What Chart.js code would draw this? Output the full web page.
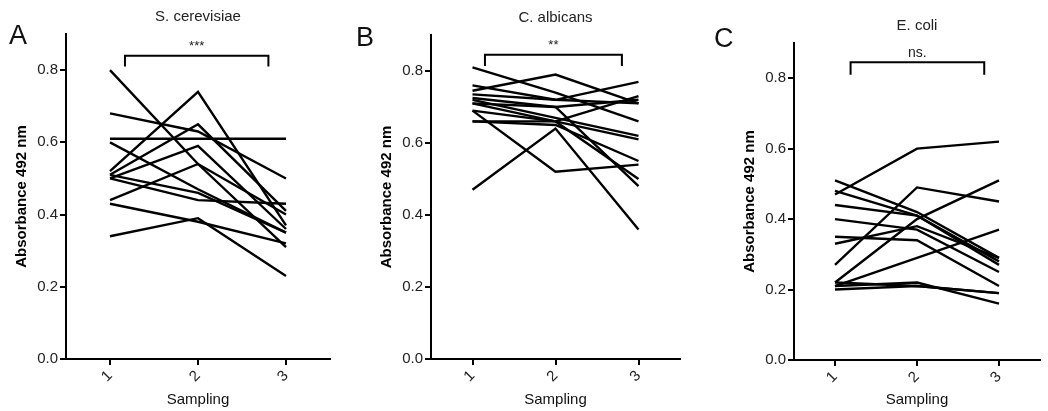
<!DOCTYPE html>
<html>
<head>
<meta charset="utf-8">
<script src="https://cdn.jsdelivr.net/npm/chart.js@4"></script>
<style>
  body { margin: 0; background: #fff; font-family: "Liberation Sans", Arial, sans-serif; }
  #wrap { position: relative; width: 1048px; height: 411px; overflow: hidden; }
  canvas { position: absolute; top: 0; }
  .lettera { position: absolute; font-size: 27px; color: #111; line-height: 1; }
</style>
</head>
<body>
<div id="wrap">
  <canvas id="graficoA" width="345" height="411" style="left:0px"></canvas>
  <canvas id="graficoB" width="330" height="411" style="left:365px"></canvas>
  <canvas id="graficoC" width="320" height="411" style="left:728px"></canvas>
  <div class="lettera" style="left:9px;top:22px">A</div>
  <div class="lettera" style="left:356px;top:24px">B</div>
  <div class="lettera" style="left:714px;top:25px">C</div>
</div>
<script>
// DATI - campionamenti e valori di assorbanza (una riga = un campione)
const sampling = [1, 2, 3]
const yTicks = [0, 0.2, 0.4, 0.6, 0.8]

const cerevisiae = [
  [0.61, 0.61, 0.61],
  [0.68, 0.63, 0.50],
  [0.80, 0.54, 0.31],
  [0.52, 0.74, 0.37],
  [0.51, 0.65, 0.41],
  [0.50, 0.59, 0.36],
  [0.44, 0.54, 0.40],
  [0.60, 0.47, 0.35],
  [0.51, 0.46, 0.35],
  [0.50, 0.44, 0.43],
  [0.43, 0.38, 0.32],
  [0.34, 0.39, 0.23],
]

const albicans = [
  [0.81, 0.74, 0.66],
  [0.745, 0.79, 0.71],
  [0.47, 0.64, 0.36],
  [0.69, 0.52, 0.54],
  [0.71, 0.70, 0.48],
  [0.76, 0.72, 0.71],
  [0.735, 0.72, 0.77],
  [0.66, 0.66, 0.73],
  [0.72, 0.67, 0.62],
  [0.71, 0.66, 0.61],
  [0.66, 0.65, 0.55],
  [0.69, 0.66, 0.50],
  [0.725, 0.70, 0.72],
]

const ecoli = [
  [0.47, 0.60, 0.62],
  [0.27, 0.49, 0.45],
  [0.22, 0.40, 0.51],
  [0.21, 0.29, 0.37],
  [0.51, 0.42, 0.29],
  [0.48, 0.41, 0.27],
  [0.44, 0.41, 0.28],
  [0.40, 0.37, 0.25],
  [0.33, 0.38, 0.29],
  [0.35, 0.34, 0.21],
  [0.21, 0.22, 0.16],
  [0.20, 0.21, 0.19],
  [0.22, 0.21, 0.19],
]

const titoli = ["S. cerevisiae", "C. albicans", "E. coli"]
const significativita = ["***", "**", "ns."]
// parentesi di confronto tra campionamento 1 e 3
const parentesiDa = [1.17, 1.15, 1.19]
const parentesiA = [2.8, 2.8, 2.82]
const parentesiAlto = [0.84, 0.845, 0.845]
const parentesiPiede = [0.81, 0.814, 0.81]

const FONT = "'Liberation Sans', Arial, sans-serif"

// PLUGIN per titolo del pannello e parentesi con asterischi
const testoPannello = {
  id: "testoPannello",
  afterDraw(chart, args, opts) {
    const { ctx, chartArea, scales } = chart
    const x1 = scales.x.getPixelForValue(opts.da)
    const x2 = scales.x.getPixelForValue(opts.a)
    const yt = scales.y.getPixelForValue(opts.alto)
    const yb = scales.y.getPixelForValue(opts.piede)
    ctx.save()
    ctx.fillStyle = "#222"
    ctx.textAlign = "center"
    ctx.textBaseline = "middle"
    ctx.font = "15px " + FONT
    ctx.fillText(opts.titolo, (chartArea.left + chartArea.right) / 2, chartArea.top - 17)

    ctx.strokeStyle = "#000"
    ctx.lineWidth = 2
    ctx.beginPath()
    ctx.moveTo(x1, yb)
    ctx.lineTo(x1, yt)
    ctx.lineTo(x2, yt)
    ctx.lineTo(x2, yb)
    ctx.stroke()

    ctx.font = (opts.etichetta === "ns." ? "14px " : "13px ") + FONT
    ctx.fillText(opts.etichetta, (x1 + x2) / 2, yt - 9)
    ctx.restore()
  },
}

function creaGrafico(id, serie, i, impostazioni) {
  const datasets = serie.map((valori) => ({
    data: valori.map((v, k) => ({ x: sampling[k], y: v })),
    borderColor: "#000",
    borderWidth: 2.4,
    pointRadius: 0,
    tension: 0,
    fill: false,
  }))

  new Chart(document.getElementById(id), {
    type: "line",
    data: { datasets },
    plugins: [testoPannello],
    options: {
      responsive: false,
      animation: false,
      layout: { padding: { top: impostazioni.top, right: impostazioni.right, left: 0, bottom: 0 } },
      plugins: {
        legend: { display: false },
        tooltip: { enabled: false },
        testoPannello: {
          titolo: titoli[i],
          etichetta: significativita[i],
          da: parentesiDa[i],
          a: parentesiA[i],
          alto: parentesiAlto[i],
          piede: parentesiPiede[i],
        },
      },
      scales: {
        x: {
          type: "linear",
          min: 0.5,
          max: 3.5,
          afterBuildTicks: (s) => { s.ticks = sampling.map((v) => ({ value: v })) },
          afterFit: (s) => { s.height = impostazioni.xHeight },
          border: { display: true, color: "#000", width: 2 },
          grid: { drawOnChartArea: false, drawTicks: true, tickLength: 6, color: "#000", lineWidth: 2 },
          ticks: {
            minRotation: 45,
            maxRotation: 45,
            padding: 2,
            color: "#222",
            font: { family: FONT, size: 15 },
            callback: (v) => String(v),
          },
          title: {
            display: true,
            text: "Sampling",
            color: "#111",
            font: { family: FONT, size: 15 },
            padding: { top: 4, bottom: 2 },
          },
        },
        y: {
          min: 0,
          max: 0.9,
          afterBuildTicks: (s) => { s.ticks = yTicks.map((v) => ({ value: v })) },
          afterFit: (s) => { s.width = 66 },
          border: { display: true, color: "#000", width: 2 },
          grid: { drawOnChartArea: false, drawTicks: true, tickLength: 6, color: "#000", lineWidth: 2 },
          ticks: {
            padding: 2,
            color: "#222",
            font: { family: FONT, size: 15 },
            callback: (v) => v.toFixed(1),
          },
          title: {
            display: true,
            text: "Absorbance 492 nm",
            color: "#000",
            font: { family: FONT, size: 15, weight: "bold" },
            padding: { top: 13, bottom: 4 },
          },
        },
      },
    },
  })
}

creaGrafico("graficoA", cerevisiae, 0, { top: 34, right: 15, xHeight: 52 })
creaGrafico("graficoB", albicans, 1, { top: 35, right: 15, xHeight: 52 })
creaGrafico("graficoC", ecoli, 2, { top: 43, right: 8, xHeight: 51 })
</script>
</body>
</html>
